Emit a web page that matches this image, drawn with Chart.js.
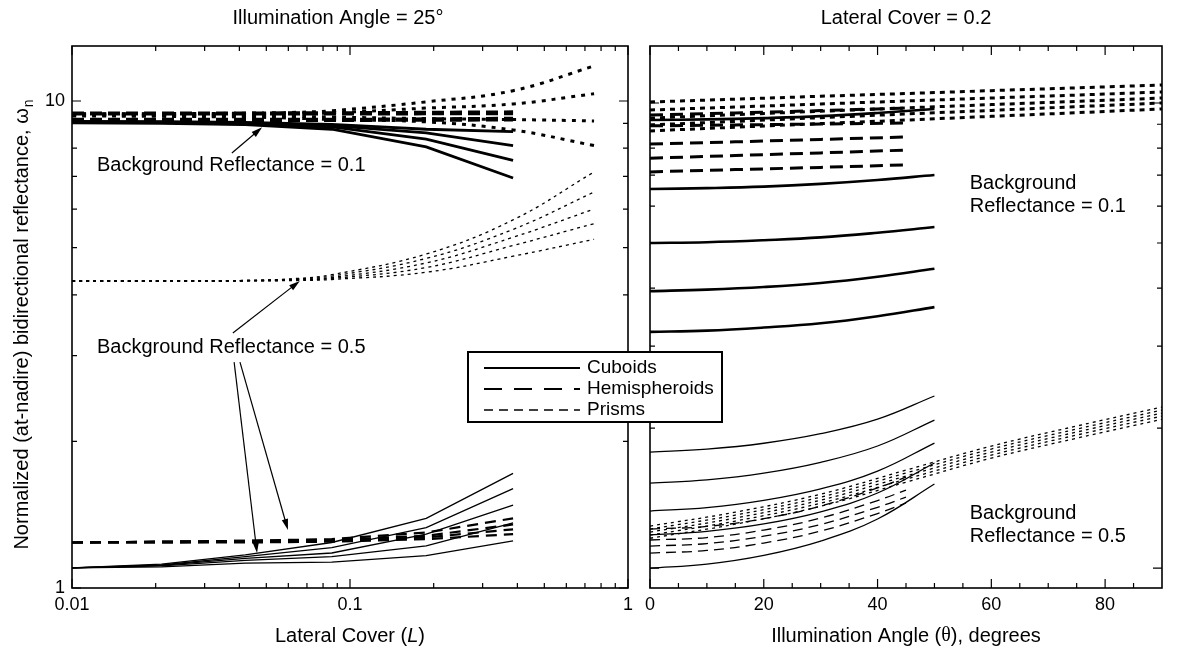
<!DOCTYPE html>
<html>
<head>
<meta charset="utf-8">
<script src="https://cdn.jsdelivr.net/npm/chart.js@4.4.1/dist/chart.umd.min.js"></script>
<style>
    body { margin: 0; background: #fff; }
    #contenedor { position: relative; width: 1190px; height: 650px; }
    canvas { position: absolute; left: 0; top: 0; }
</style>
</head>
<body>
<div id="contenedor">
    <canvas id="graficoA" width="1190" height="650"></canvas>
    <canvas id="graficoB" width="1190" height="650"></canvas>
</div>
<script>
// ---- Panel A: angulo de iluminacion 25°, eje x = cobertura lateral L ----
const coberturaL = [0.01, 0.021, 0.042, 0.086, 0.188, 0.386];
const coberturaPrismas = [0.01, 0.021, 0.042, 0.064, 0.086, 0.188, 0.386, 0.755];

// reflectancia de fondo 0.1
const cubosA01 = [
    [9.08, 9.07, 9.04, 8.95, 8.75, 8.65],
    [9.06, 9.05, 9.0, 8.9, 8.6, 8.1],
    [9.04, 9.03, 8.97, 8.85, 8.35, 7.55],
    [9.02, 9.0, 8.94, 8.75, 8.05, 6.95]
];
const hemisA01 = [
    [9.45, 9.45, 9.45, 9.46, 9.48, 9.5],
    [9.4, 9.4, 9.4, 9.4, 9.41, 9.42],
    [9.17, 9.17, 9.17, 9.17, 9.19, 9.22],
    [9.12, 9.12, 9.12, 9.12, 9.13, 9.14]
];
const prismasA01 = [
    [9.42, 9.42, 9.44, 9.48, 9.55, 9.96, 10.5, 11.8],
    [9.4, 9.4, 9.4, 9.42, 9.45, 9.67, 9.86, 10.35],
    [9.36, 9.34, 9.32, 9.3, 9.27, 9.2, 9.16, 9.1],
    [9.32, 9.3, 9.27, 9.22, 9.16, 9.06, 8.72, 8.1]
];

// reflectancia de fondo 0.5
const cubosA05 = [
    [1.10, 1.12, 1.17, 1.24, 1.39, 1.72],
    [1.10, 1.115, 1.16, 1.21, 1.33, 1.60],
    [1.10, 1.113, 1.15, 1.18, 1.29, 1.48],
    [1.10, 1.11, 1.14, 1.16, 1.22, 1.36],
    [1.10, 1.105, 1.125, 1.13, 1.165, 1.25]
];
const hemisA05 = [
    [1.24, 1.245, 1.25, 1.26, 1.3, 1.39],
    [1.24, 1.245, 1.25, 1.255, 1.28, 1.35],
    [1.24, 1.24, 1.245, 1.25, 1.27, 1.32],
    [1.24, 1.24, 1.24, 1.245, 1.26, 1.29]
];
const prismasA05 = [
    [4.27, 4.27, 4.28, 4.32, 4.4, 4.85, 5.7, 7.15],
    [4.27, 4.27, 4.28, 4.31, 4.37, 4.75, 5.45, 6.5],
    [4.27, 4.27, 4.28, 4.3, 4.34, 4.65, 5.25, 6.0],
    [4.27, 4.27, 4.27, 4.29, 4.32, 4.55, 5.05, 5.6],
    [4.27, 4.27, 4.27, 4.28, 4.3, 4.45, 4.8, 5.2]
];

// ---- Panel B: cobertura lateral 0.2, eje x = angulo de iluminacion ----
const anguloCubos = [0, 10, 20, 30, 40, 50];
const anguloHemis01 = [0, 15, 30, 45];
const anguloHemis05 = [0, 10, 20, 30, 40, 45];
const anguloPrismas = [0, 15, 30, 45, 60, 75, 90];

const cubosB01 = [
    [9.19, 9.22, 9.28, 9.37, 9.52, 9.71],
    [6.53, 6.56, 6.61, 6.70, 6.83, 7.00],
    [5.00, 5.02, 5.07, 5.14, 5.26, 5.41],
    [3.94, 3.97, 4.02, 4.10, 4.23, 4.40],
    [3.22, 3.24, 3.29, 3.36, 3.48, 3.64]
];
const hemisB01 = [
    [9.42, 9.52, 9.63, 9.75],
    [8.93, 8.97, 9.01, 9.06],
    [8.16, 8.25, 8.35, 8.45],
    [7.61, 7.71, 7.81, 7.92],
    [7.11, 7.19, 7.27, 7.36]
];
const prismasB01 = [
    [10.05, 10.19, 10.34, 10.48, 10.63, 10.78, 10.93],
    [9.66, 9.80, 9.95, 10.10, 10.25, 10.40, 10.56],
    [9.28, 9.44, 9.60, 9.76, 9.92, 10.08, 10.25],
    [8.97, 9.13, 9.30, 9.47, 9.64, 9.82, 10.0],
    [8.71, 8.87, 9.03, 9.19, 9.36, 9.53, 9.71]
];
const cubosB05 = [
    [1.776, 1.802, 1.855, 1.945, 2.090, 2.344],
    [1.523, 1.548, 1.600, 1.688, 1.830, 2.081],
    [1.326, 1.349, 1.398, 1.480, 1.616, 1.857],
    [1.178, 1.199, 1.244, 1.321, 1.450, 1.682],
    [1.0, 1.020, 1.065, 1.143, 1.275, 1.516]
];
const hemisB05 = [
    [1.213, 1.229, 1.277, 1.359, 1.487, 1.569],
    [1.149, 1.163, 1.207, 1.281, 1.397, 1.471],
    [1.115, 1.129, 1.171, 1.241, 1.351, 1.421],
    [1.077, 1.091, 1.132, 1.201, 1.310, 1.380]
];
const prismasB05 = [
    [1.231, 1.319, 1.442, 1.624, 1.829, 2.020, 2.219],
    [1.213, 1.300, 1.421, 1.601, 1.803, 1.990, 2.186],
    [1.195, 1.281, 1.400, 1.577, 1.776, 1.961, 2.154],
    [1.177, 1.262, 1.379, 1.553, 1.749, 1.932, 2.122],
    [1.159, 1.243, 1.358, 1.530, 1.723, 1.902, 2.089]
];

// ---- marcas y etiquetas de los ejes ----
const marcasLogMayor = [1, 10];
const marcasLogMenor = [2, 3, 4, 5, 6, 7, 8, 9];
const etiquetasY = ['1', '10'];
const marcasCoberturaMayor = [0.01, 0.1, 1];
const marcasCoberturaMenor = [0.02, 0.03, 0.04, 0.05, 0.06, 0.07, 0.08, 0.09, 0.2, 0.3, 0.4, 0.5, 0.6, 0.7, 0.8, 0.9];
const etiquetasCobertura = ['0.01', '0.1', '1'];
const marcasAnguloMayor = [0, 20, 40, 60, 80];
const marcasAnguloMenor = [5, 10, 15, 25, 30, 35, 45, 50, 55, 65, 70, 75, 85];
const etiquetasAngulo = ['0', '20', '40', '60', '80'];

// notas (en coordenadas de datos)
const notasA = [
    { texto: 'Background Reflectance = 0.1', x: 0.0123, y: 7.38 },
    { texto: 'Background Reflectance = 0.5', x: 0.0123, y: 3.12 }
];
const flechasA = [
    { desde: [0.0376, 7.82], hasta: [0.0483, 8.83] },
    { desde: [0.0379, 3.34], hasta: [0.066, 4.27] },
    { desde: [0.0383, 2.91], hasta: [0.0463, 1.18] },
    { desde: [0.0402, 2.91], hasta: [0.0598, 1.316] }
];
const notasB = [
    { lineas: ['Background', 'Reflectance = 0.1'], x: 56.2, y: 6.7 },
    { lineas: ['Background', 'Reflectance = 0.5'], x: 56.2, y: 1.313 }
];
const leyendaTextos = ['Cuboids', 'Hemispheroids', 'Prisms'];

const fuente = '"Liberation Sans", Arial, Helvetica, sans-serif';

const estilos = {
    cuboGrueso: { ancho: 2.8 },
    hemiGrueso: { ancho: 3, guion: [12, 6] },
    prismaGrueso: { ancho: 3, guion: [4, 6], curva: true },
    cuboFino: { ancho: 1.3 },
    hemiFinoA: { ancho: 2.2, guion: [11, 7] },
    hemiFino: { ancho: 1.3, guion: [10, 6], curva: true },
    prismaFino: { ancho: 1.3, guion: [3, 4], curva: true },
    cuboGruesoCurvo: { ancho: 2.6, curva: true },
    cuboFinoCurvo: { ancho: 1.3, curva: true },
    hemiGruesoB: { ancho: 3, guion: [13, 7] },
    prismaGruesoB: { ancho: 3, guion: [5, 5] }
};

function linea(xs, ys, estilo) {
    return {
        data: xs.map((x, i) => ({ x: x, y: ys[i] })),
        borderColor: '#000',
        borderWidth: estilo.ancho,
        borderDash: estilo.guion || [],
        tension: estilo.curva ? 0.4 : 0,
        pointRadius: 0,
        fill: false
    };
}

function grupo(xs, series, estilo) {
    return series.map(ys => linea(xs, ys, estilo));
}

function dibujarMarco(chart, xMayor, xMenor, yMayor, yMenor) {
    const ctx = chart.ctx;
    const a = chart.chartArea;
    const sx = chart.scales.x;
    const sy = chart.scales.y;
    ctx.save();
    ctx.strokeStyle = '#000';
    ctx.lineWidth = 1.2;
    ctx.beginPath();
    const marcaX = (v, largo) => {
        const px = sx.getPixelForValue(v);
        ctx.moveTo(px, a.bottom); ctx.lineTo(px, a.bottom - largo);
        ctx.moveTo(px, a.top); ctx.lineTo(px, a.top + largo);
    };
    const marcaY = (v, largo) => {
        const py = sy.getPixelForValue(v);
        ctx.moveTo(a.left, py); ctx.lineTo(a.left + largo, py);
        ctx.moveTo(a.right, py); ctx.lineTo(a.right - largo, py);
    };
    xMayor.forEach(v => marcaX(v, 9));
    xMenor.forEach(v => marcaX(v, 5));
    yMayor.forEach(v => marcaY(v, 9));
    yMenor.forEach(v => marcaY(v, 5));
    ctx.stroke();
    ctx.lineWidth = 1.6;
    ctx.strokeRect(a.left, a.top, a.right - a.left, a.bottom - a.top);
    ctx.restore();
}

function etiquetasX(chart, valores, textos) {
    const ctx = chart.ctx;
    ctx.save();
    ctx.fillStyle = '#000';
    ctx.font = '18px ' + fuente;
    ctx.textAlign = 'center';
    ctx.textBaseline = 'top';
    valores.forEach((v, i) => {
        ctx.fillText(textos[i], chart.scales.x.getPixelForValue(v), chart.chartArea.bottom + 8);
    });
    ctx.restore();
}

function textoMixto(ctx, partes, xCentro, y) {
    // partes: [texto, fuente]
    let total = 0;
    partes.forEach(p => { ctx.font = p[1]; total += ctx.measureText(p[0]).width; });
    let x = xCentro - total / 2;
    ctx.textAlign = 'left';
    partes.forEach(p => {
        ctx.font = p[1];
        ctx.fillText(p[0], x, y);
        x += ctx.measureText(p[0]).width;
    });
}

function flecha(ctx, x1, y1, x2, y2) {
    const ang = Math.atan2(y2 - y1, x2 - x1);
    const largo = 11, ancho = 3.2;
    ctx.beginPath();
    ctx.moveTo(x1, y1);
    ctx.lineTo(x2 - Math.cos(ang) * largo * 0.8, y2 - Math.sin(ang) * largo * 0.8);
    ctx.stroke();
    ctx.beginPath();
    ctx.moveTo(x2, y2);
    ctx.lineTo(x2 - Math.cos(ang) * largo - Math.sin(ang) * ancho, y2 - Math.sin(ang) * largo + Math.cos(ang) * ancho);
    ctx.lineTo(x2 - Math.cos(ang) * largo + Math.sin(ang) * ancho, y2 - Math.sin(ang) * largo - Math.cos(ang) * ancho);
    ctx.closePath();
    ctx.fill();
}

const decoradoA = {
    id: 'decoradoA',
    afterDatasetsDraw(chart) {
        const ctx = chart.ctx;
        const sx = chart.scales.x, sy = chart.scales.y;
        const a = chart.chartArea;
        dibujarMarco(chart, marcasCoberturaMayor, marcasCoberturaMenor, marcasLogMayor, marcasLogMenor);
        etiquetasX(chart, marcasCoberturaMayor, etiquetasCobertura);

        ctx.save();
        ctx.fillStyle = '#000';
        ctx.strokeStyle = '#000';
        ctx.font = '18px ' + fuente;
        ctx.textAlign = 'right';
        ctx.textBaseline = 'middle';
        marcasLogMayor.forEach((v, i) => ctx.fillText(etiquetasY[i], a.left - 7, sy.getPixelForValue(v)));

        // titulo del panel y del eje x
        ctx.font = '20px ' + fuente;
        ctx.textAlign = 'center';
        ctx.fillText('Illumination Angle = 25°', (a.left + a.right) / 2 - 12, 18);
        textoMixto(ctx, [['Lateral Cover (', '20px ' + fuente], ['L', 'italic 20px ' + fuente], [')', '20px ' + fuente]], (a.left + a.right) / 2, 636);

        // titulo del eje y, girado
        ctx.save();
        ctx.translate(22, (a.top + a.bottom) / 2 + 8);
        ctx.rotate(-Math.PI / 2);
        const principal = 'Normalized (at-nadire) bidirectional reflectance, ω';
        ctx.font = '20px ' + fuente;
        const w1 = ctx.measureText(principal).width;
        ctx.font = '14px ' + fuente;
        const w2 = ctx.measureText('n').width;
        ctx.textAlign = 'left';
        ctx.font = '20px ' + fuente;
        ctx.fillText(principal, -(w1 + w2) / 2, 0);
        ctx.font = '14px ' + fuente;
        ctx.fillText('n', -(w1 + w2) / 2 + w1 + 1, 7);
        ctx.restore();

        // notas y flechas
        ctx.font = '20px ' + fuente;
        ctx.textAlign = 'left';
        notasA.forEach(n => ctx.fillText(n.texto, sx.getPixelForValue(n.x), sy.getPixelForValue(n.y)));
        ctx.lineWidth = 1.2;
        flechasA.forEach(f => flecha(ctx,
            sx.getPixelForValue(f.desde[0]), sy.getPixelForValue(f.desde[1]),
            sx.getPixelForValue(f.hasta[0]), sy.getPixelForValue(f.hasta[1])));
        ctx.restore();
    }
};

const decoradoB = {
    id: 'decoradoB',
    afterDatasetsDraw(chart) {
        const ctx = chart.ctx;
        const sx = chart.scales.x, sy = chart.scales.y;
        const a = chart.chartArea;
        dibujarMarco(chart, marcasAnguloMayor, marcasAnguloMenor, marcasLogMayor, marcasLogMenor);
        etiquetasX(chart, marcasAnguloMayor, etiquetasAngulo);

        ctx.save();
        ctx.fillStyle = '#000';
        ctx.textBaseline = 'middle';
        ctx.font = '20px ' + fuente;
        ctx.textAlign = 'center';
        ctx.fillText('Lateral Cover = 0.2', (a.left + a.right) / 2, 18);
        textoMixto(ctx, [['Illumination Angle (', '20px ' + fuente], ['θ', '20px "Liberation Serif", serif'], ['), degrees', '20px ' + fuente]], (a.left + a.right) / 2, 636);

        ctx.font = '20px ' + fuente;
        ctx.textAlign = 'left';
        notasB.forEach(n => {
            const px = sx.getPixelForValue(n.x);
            const py = sy.getPixelForValue(n.y);
            n.lineas.forEach((t, i) => ctx.fillText(t, px, py + i * 23));
        });

        // leyenda, cruza los dos paneles
        const lx = 468, ly = 352, lw = 254, lh = 70;
        ctx.fillStyle = '#fff';
        ctx.fillRect(lx, ly, lw, lh);
        ctx.strokeStyle = '#000';
        ctx.lineWidth = 2;
        ctx.strokeRect(lx, ly, lw, lh);
        const muestras = [
            { ancho: 2.2, guion: [] },
            { ancho: 2.2, guion: [18, 12] },
            { ancho: 1.6, guion: [9, 6] }
        ];
        ctx.fillStyle = '#000';
        ctx.font = '19px ' + fuente;
        leyendaTextos.forEach((t, i) => {
            const y = ly + 16 + i * 21;
            ctx.beginPath();
            ctx.lineWidth = muestras[i].ancho;
            ctx.setLineDash(muestras[i].guion);
            ctx.moveTo(lx + 16, y);
            ctx.lineTo(lx + 112, y);
            ctx.stroke();
            ctx.setLineDash([]);
            ctx.fillText(t, lx + 119, y);
        });
        ctx.restore();
    }
};

function opciones(escalaX, escalaY, relleno) {
    return {
        responsive: false,
        animation: false,
        devicePixelRatio: 1,
        events: [],
        layout: { padding: relleno },
        plugins: { legend: { display: false }, tooltip: { enabled: false } },
        scales: { x: escalaX, y: escalaY }
    };
}

new Chart(document.getElementById('graficoA').getContext('2d'), {
    type: 'line',
    data: {
        datasets: [].concat(
            grupo(coberturaL, hemisA01, estilos.hemiGrueso),
            grupo(coberturaPrismas, prismasA01, estilos.prismaGrueso),
            grupo(coberturaL, cubosA01, estilos.cuboGrueso),
            grupo(coberturaL, hemisA05, estilos.hemiFinoA),
            grupo(coberturaPrismas, prismasA05, estilos.prismaFino),
            grupo(coberturaL, cubosA05, estilos.cuboFino)
        )
    },
    options: opciones(
        { type: 'logarithmic', min: 0.01, max: 1, display: false },
        { type: 'logarithmic', min: 1, max: 12.97, display: false },
        { left: 72, right: 562, top: 46, bottom: 62 }
    ),
    plugins: [decoradoA]
});

new Chart(document.getElementById('graficoB').getContext('2d'), {
    type: 'line',
    data: {
        datasets: [].concat(
            grupo(anguloHemis01, hemisB01, estilos.hemiGruesoB),
            grupo(anguloPrismas, prismasB01, estilos.prismaGruesoB),
            grupo(anguloCubos, cubosB01, estilos.cuboGruesoCurvo),
            grupo(anguloHemis05, hemisB05, estilos.hemiFino),
            grupo(anguloPrismas, prismasB05, estilos.prismaFino),
            grupo(anguloCubos, cubosB05, estilos.cuboFinoCurvo)
        )
    },
    options: opciones(
        { type: 'linear', min: 0, max: 90, display: false },
        { type: 'logarithmic', min: 0.906, max: 13.26, display: false },
        { left: 650, right: 28, top: 46, bottom: 62 }
    ),
    plugins: [decoradoB]
});
</script>
</body>
</html>
